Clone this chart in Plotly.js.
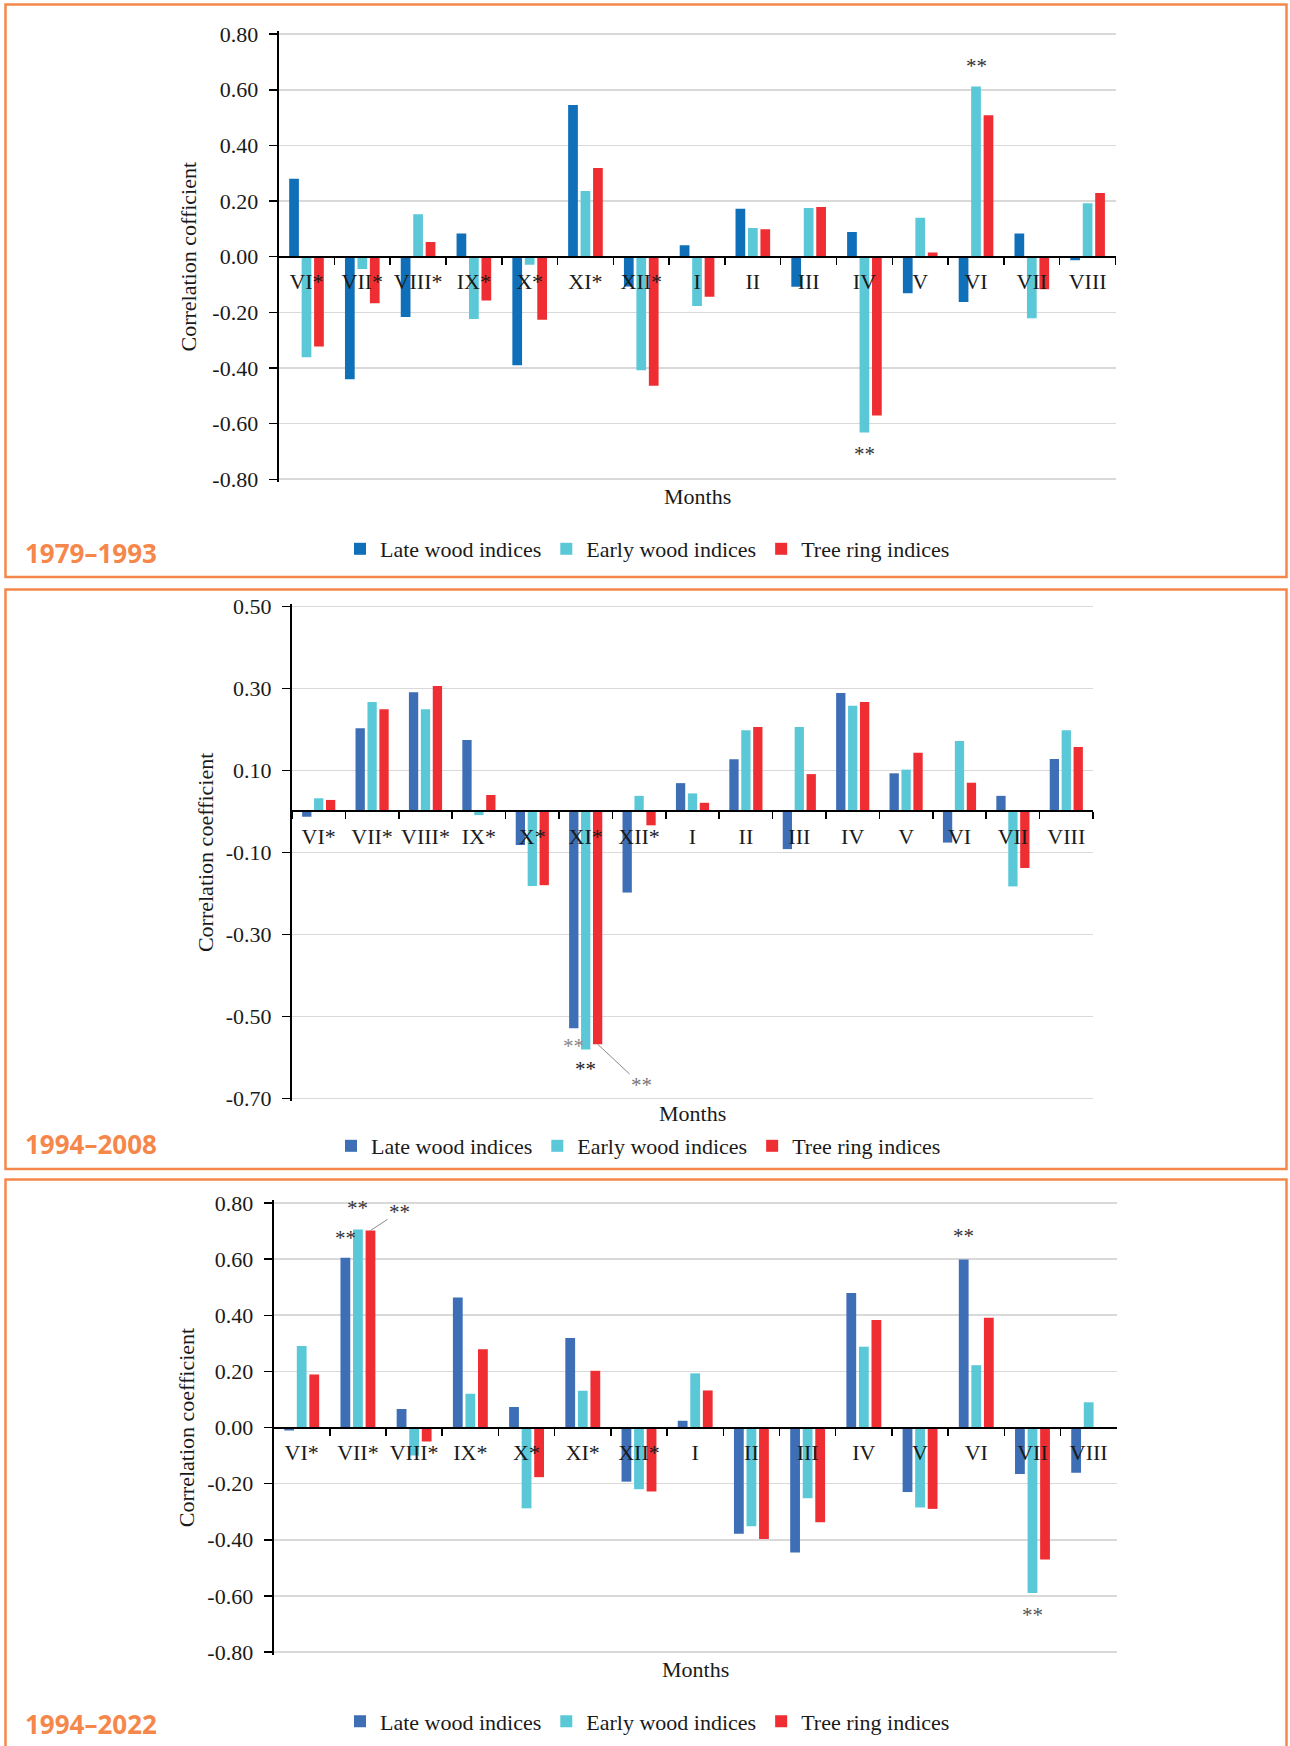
<!DOCTYPE html>
<html><head><meta charset="utf-8">
<script src="https://cdn.plot.ly/plotly-3.0.1.min.js"></script>
<style>html,body{margin:0;padding:0;background:#fff}#chart{width:1290px;height:1746px}</style>
</head><body><div id="chart"></div>
<script>
// ---------- DATA ----------
const months = ['VI*','VII*','VIII*','IX*','X*','XI*','XII*','I','II','III','IV','V','VI','VII','VIII'];
const seriesNames = ['Late wood indices','Early wood indices','Tree ring indices'];
const periodLabels = ['1979–1993','1994–2008','1994–2022'];
const yTitles = ['Correlation cofficient','Correlation coefficient','Correlation coefficient'];
const xTitle = 'Months';

// 1979–1993
const late1  = [0.280,-0.440,-0.217,0.083,-0.390,0.545,-0.107,0.041,0.172,-0.108,0.089,-0.131,-0.163,0.083,-0.013];
const early1 = [-0.361,-0.044,0.153,-0.224,-0.029,0.236,-0.408,-0.177,0.103,0.175,-0.632,0.140,0.612,-0.221,0.192];
const tree1  = [-0.323,-0.167,0.053,-0.157,-0.227,0.319,-0.464,-0.144,0.099,0.179,-0.571,0.015,0.508,-0.117,0.229];
// 1994–2008
const late2  = [-0.013,0.203,0.291,0.174,-0.082,-0.529,-0.198,0.069,0.127,-0.092,0.289,0.093,-0.076,0.038,0.128];
const early2 = [0.032,0.267,0.249,-0.009,-0.182,-0.581,0.038,0.044,0.198,0.206,0.258,0.102,0.172,-0.183,0.198];
const tree2  = [0.028,0.249,0.306,0.040,-0.180,-0.568,-0.034,0.021,0.206,0.091,0.267,0.143,0.070,-0.138,0.157];
// 1994–2022
const late3  = [-0.011,0.605,0.066,0.463,0.073,0.319,-0.193,0.024,-0.379,-0.445,0.479,-0.230,0.599,-0.166,-0.161];
const early3 = [0.290,0.706,-0.100,0.120,-0.288,0.131,-0.220,0.193,-0.352,-0.252,0.288,-0.285,0.222,-0.590,0.090];
const tree3  = [0.189,0.702,-0.050,0.279,-0.177,0.202,-0.228,0.132,-0.397,-0.338,0.383,-0.290,0.391,-0.470,0.000];

// tick labels
const yTickVals1 = [0.8,0.6,0.4,0.2,0,-0.2,-0.4,-0.6,-0.8];
const yTickText1 = ['0.80','0.60','0.40','0.20','0.00','-0.20','-0.40','-0.60','-0.80'];
const yTickVals2 = [0.5,0.3,0.1,-0.1,-0.3,-0.5,-0.7];
const yTickText2 = ['0.50','0.30','0.10','-0.10','-0.30','-0.50','-0.70'];
const yTickVals3 = yTickVals1;
const yTickText3 = yTickText1;

// significance marks (**) : panel, month, series index
const sigPanel  = [0,0,1,1,1,2,2,2,2,2];
const sigMonth  = ['VI','IV','XI*','XI*','XI*','VII*','VII*','VII*','VI','VII'];
const sigSeries = [1,1,0,1,2,0,1,2,0,1];
const sigText = '**';

// ---------- STYLE / GEOMETRY ----------
const W = 1290, H = 1746;
const serif = 'Liberation Serif, Times New Roman, serif';
const orange = '#f5874a';
const earlyColor = '#5bc8d8', treeColor = '#ee2e32';
const lateColors = ['#0f6fb8','#3d6eb6','#3d6eb6'];
const panelData = [[late1,early1,tree1],[late2,early2,tree2],[late3,early3,tree3]];
const tickVals = [yTickVals1,yTickVals2,yTickVals3];
const tickText = [yTickText1,yTickText2,yTickText3];
const geo = [
  {x0:278.6,x1:1115.5,vTop:0.8,vBot:-0.8,pxTop:34.1,pxBot:479.3,box:[5.5,4.5,1286.5,577],year:553,months:[697,496],legY:549,legX:340,stand:10},
  {x0:292.0,x1:1093.0,vTop:0.5,vBot:-0.7,pxTop:606.5,pxBot:1098.3,box:[5.5,589.5,1286.5,1169],year:1144,months:[692,1113],legY:1146,legX:331,stand:6},
  {x0:273.6,x1:1116.8,vTop:0.8,vBot:-0.8,pxTop:1203,pxBot:1652,box:[5.5,1179.5,1286.5,1760],year:1724,months:[695,1669],legY:1721.5,legX:340,stand:7}
];
// per-mark styling: [yshift px, ax, ay, colour]
const sigStyle = [
  [20,0,0,'#333'],[-21,0,0,'#333'],
  [-18,0,0,'#888'],[-19,0,0,'#222'],[0,44,41,'#777'],
  [20,0,0,'#333'],[21,0,0,'#333'],[0,29,-19,'#333'],
  [23,0,0,'#333'],[-22,0,0,'#555']
];

const px2x = p => p / W;
const px2y = p => 1 - p / H;

const traces = [];
const layout = {
  width: W, height: H,
  margin: {l:0,r:0,t:0,b:0},
  paper_bgcolor:'#fff', plot_bgcolor:'#fff',
  barmode:'group', bargap:0.33, bargroupgap:0.22,
  showlegend:true,
  font:{family:serif, color:'#222'},
  shapes:[], annotations:[]
};

geo.forEach((g,i) => {
  const sfx = i === 0 ? '' : String(i+1);
  const k = (g.pxBot - g.pxTop) / (g.vTop - g.vBot); // px per unit
  const pad = 3;
  const r0 = g.vBot - pad/k, r1 = g.vTop + pad/k;
  const d0 = px2y(g.pxBot + pad), d1 = px2y(g.pxTop - pad);
  const zeroPos = d0 + (0 - r0) / (r1 - r0) * (d1 - d0);

  panelData[i].forEach((vals,s) => {
    traces.push({
      type:'bar', x: months, y: vals, name: seriesNames[s],
      xaxis:'x'+sfx, yaxis:'y'+sfx, legend:'legend'+sfx,
      marker:{color: s===0 ? lateColors[i] : (s===1 ? earlyColor : treeColor), line:{width:0}},
      hoverinfo:'skip'
    });
  });

  layout['xaxis'+sfx] = {
    type:'category', categoryarray: months, categoryorder:'array',
    domain:[px2x(g.x0), px2x(g.x1)], range:[-0.5, months.length-0.5],
    anchor:'free', position: zeroPos, side:'bottom',
    showline:true, linecolor:'#000', linewidth:2,
    ticks:'outside', tickson:'boundaries', ticklen:7, tickwidth:1.5, tickcolor:'#000',
    tickangle:0,
    tickfont:{family:serif, size:22, color:'#1a1a1a'}, ticklabelstandoff:5,
    showgrid:false, zeroline:false, automargin:false, fixedrange:true, layer:'above traces'
  };
  layout['yaxis'+sfx] = {
    domain:[d0,d1], range:[r0,r1], anchor:'x'+sfx,
    tickmode:'array', tickvals: tickVals[i], ticktext: tickText[i],
    showline:true, linecolor:'#000', linewidth:2,
    ticks:'outside', ticklen:8, tickwidth:1.5, tickcolor:'#000',
    tickfont:{family:serif, size:22, color:'#1a1a1a'}, ticklabelstandoff:6,
    showgrid:true, gridcolor:'#d9d9d9', gridwidth:1.6, zeroline:false,
    automargin:false, fixedrange:true,
    title:{text: yTitles[i], font:{family:serif, size:22, color:'#1a1a1a'}, standoff:g.stand}
  };
  layout['legend'+sfx] = {
    orientation:'h', x: px2x(g.legX), xanchor:'left', y: px2y(g.legY), yanchor:'middle',
    font:{family:serif, size:22, color:'#1a1a1a'}, bgcolor:'rgba(0,0,0,0)',
    itemclick:false, itemdoubleclick:false, traceorder:'normal'
  };
  // panel border
  layout.shapes.push({type:'rect', xref:'paper', yref:'paper',
    x0:px2x(g.box[0]), x1:px2x(g.box[2]), y0:px2y(g.box[3]), y1:px2y(g.box[1]),
    line:{color:orange, width:2.5}, fillcolor:'rgba(0,0,0,0)', layer:'above'});
  // period label
  layout.annotations.push({xref:'paper', yref:'paper', x:px2x(23), y:px2y(g.year),
    xanchor:'left', yanchor:'middle', showarrow:false, text:'<b>'+periodLabels[i]+'</b>',
    font:{family:'Open Sans, Noto Sans, sans-serif', size:26, color:orange}});
  // x title
  layout.annotations.push({xref:'paper', yref:'paper', x:px2x(g.months[0]), y:px2y(g.months[1]),
    xanchor:'center', yanchor:'middle', showarrow:false, text:xTitle,
    font:{family:serif, size:22, color:'#1a1a1a'}});
});

// significance marks, anchored on the bar values
sigPanel.forEach((p,j) => {
  const g = geo[p];
  const sfx = p === 0 ? '' : String(p+1);
  const catW = (g.x1 - g.x0) / months.length;
  const slot = catW * (1 - layout.bargap) / 3;
  const idx = months.indexOf(sigMonth[j]);
  const val = panelData[p][sigSeries[j]][idx];
  const st = sigStyle[j];
  const leader = st[1] !== 0;
  const a = {
    xref:'x'+sfx, yref:'y'+sfx, x: sigMonth[j], y: val,
    xshift: (sigSeries[j]-1)*slot, text: sigText,
    font:{family:serif, size:21, color:st[3]},
    xanchor:'center', yanchor:'middle'
  };
  if (leader) {
    Object.assign(a, {showarrow:true, arrowhead:0, arrowwidth:1, arrowcolor:'#8a8a8a',
      ax:st[1], ay:st[2], axref:'pixel', ayref:'pixel', standoff:0, startstandoff:0});
  } else {
    Object.assign(a, {showarrow:false, yshift:st[0]});
  }
  layout.annotations.push(a);
});

Plotly.newPlot('chart', traces, layout, {staticPlot:true, displayModeBar:false});
</script>
</body></html>
